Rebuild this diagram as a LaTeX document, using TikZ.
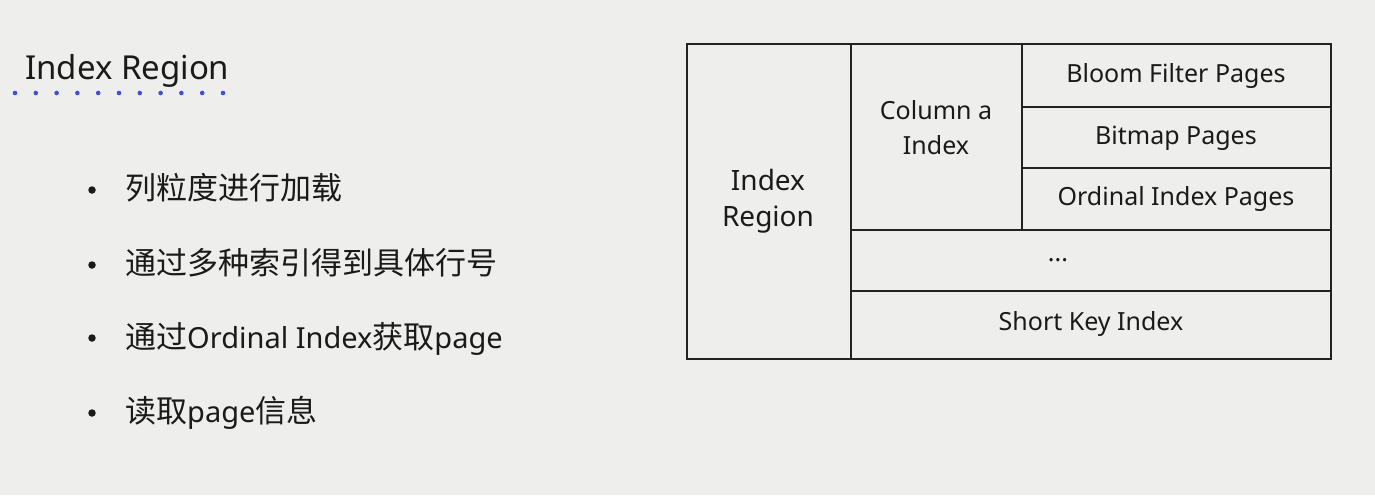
\documentclass[tikz,border=0pt]{standalone}
\usepackage{fontspec}
\setmainfont{Noto Sans}
\newfontfamily\cjk{Noto Sans CJK SC}
\definecolor{bg}{HTML}{EEEEEC}
\definecolor{ink}{HTML}{1A1A1A}
\definecolor{linec}{HTML}{222222}
\definecolor{dotblue}{HTML}{3A4FE0}
\tikzset{
  cell/.style 2 args={draw=linec, line width=2pt, inner sep=0pt, outer sep=0pt,
    minimum width=#1, minimum height=#2},
  celltext/.style={text=ink, font=\fontsize{25}{35}\selectfont, align=center, inner sep=0pt},
  bullettext/.style={text=ink, font=\fontsize{29}{36}\selectfont, anchor=base west, inner sep=0pt},
  bulletdot/.style={circle, fill=ink, inner sep=0pt, minimum size=7.5pt},
  titledot/.style={circle, fill=dotblue, inner sep=0pt, minimum size=4.6pt},
}
\newcommand{\zh}[1]{{\cjk\fontsize{31}{36}\selectfont #1}}
\begin{document}
\begin{tikzpicture}[x=1pt,y=-1pt]
\fill[bg] (0,0) rectangle (1375,495);
\useasboundingbox (0,0) rectangle (1375,495);

% title
\node[text=ink, font=\fontsize{33}{40}\selectfont, anchor=base west, inner sep=0pt] (title) at (25,79) {Index Region};
\foreach \i in {0,...,10} {
  \node[titledot] (td\i) at ({15+20.8*\i},93) {};
}

% bullets
\node[bulletdot] (b1) at (92,190) {};
\node[bulletdot] (b2) at (92,265) {};
\node[bulletdot] (b3) at (92,338) {};
\node[bulletdot] (b4) at (92,413) {};
\node[bullettext] (t1) at (125,199) {\zh{列粒度进行加载}};
\node[bullettext] (t2) at (125,274) {\zh{通过多种索引得到具体行号}};
\node[bullettext] (t3) at (125,348) {\zh{通过}Ordinal Index\zh{获取}page};
\node[bullettext] (t4) at (125,422) {\zh{读取}page\zh{信息}};

% table cells
\node[cell={164pt}{315pt}] (ir) at (769,201.5) {};
\node[cell={171pt}{185.5pt}] (ca) at (936.5,136.75) {};
\node[cell={309pt}{62.5pt}] (bf) at (1176.5,75.25) {};
\node[cell={309pt}{61pt}] (bm) at (1176.5,137) {};
\node[cell={309pt}{62pt}] (oi) at (1176.5,198.5) {};
\node[cell={480pt}{61pt}] (el) at (1091,260) {};
\node[cell={480pt}{68.5pt}] (sk) at (1091,324.75) {};

% table texts
\node[celltext, font=\fontsize{28}{36}\selectfont] (irt) at (768,201) {Index\\Region};
\node[celltext] (cat) at (936,128) {Column a\\Index};
\node[celltext] (bft) at (1176,76) {Bloom Filter Pages};
\node[celltext] (bmt) at (1176,138) {Bitmap Pages};
\node[celltext] (oit) at (1176,199) {Ordinal Index Pages};
\node[celltext] (elt) at (1058,260) {...};
\node[celltext] (skt) at (1091,324) {Short Key Index};
\end{tikzpicture}
\end{document}
